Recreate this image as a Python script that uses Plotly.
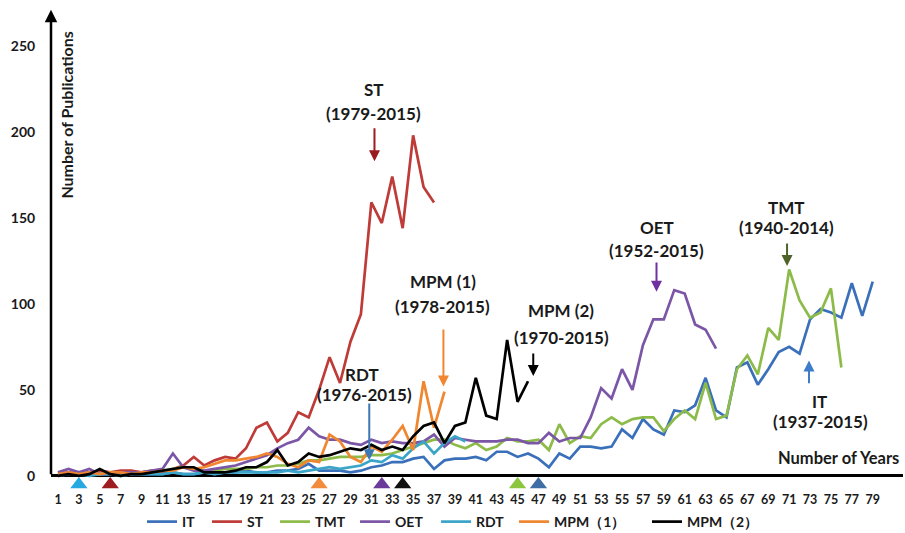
import plotly.graph_objects as go

# Publications per year, indexed from each field's first year (1 = first year)
it_counts = [1, 2, 1, 2, 1, 1, 0, 1, 1, 1,
             1, 2, 1, 1, 2, 1, 2, 2, 3, 2,
             2, 3, 3, 4, 7, 3, 3, 3, 2, 3,
             5, 6, 8, 8, 10, 11, 4, 9, 10, 10,
             11, 9, 14, 14, 11, 13, 10, 5, 13, 10,
             17, 17, 16, 17, 27, 22, 33, 27, 24, 38,
             37, 41, 57, 38, 34, 63, 66, 53, 62, 72,
             75, 71, 91, 97, 95, 92, 112, 93, 113]
st_counts = [1, 2, 1, 2, 3, 2, 3, 3, 2, 3, 2, 4, 6,
             11, 6, 9, 11, 10, 16, 28, 31, 20, 25, 37, 34, 50,
             69, 54, 78, 94, 159, 147, 174, 144, 198, 168, 159]
tmt_counts = [2, 1, 2, 1, 1, 2, 1, 2, 1, 2, 3, 4, 5, 4, 3, 3, 4, 4, 4, 5,
              5, 6, 6, 7, 9, 9, 10, 11, 11, 11,
              12, 12, 13, 15, 17, 19, 21, 21, 18, 16,
              19, 15, 17, 22, 20, 20, 21, 15, 30, 19,
              23, 22, 30, 34, 30, 33, 34, 34, 26, 33,
              38, 33, 54, 33, 35, 62, 70, 59, 86, 79,
              120, 102, 92, 95, 109, 63]
oet_counts = [2, 4, 2, 4, 1, 1, 2, 2, 2, 3, 4, 13, 5, 3, 3, 4,
              5, 6, 8, 10, 12, 16, 19, 21, 28, 23, 21, 21, 19, 18,
              21, 19, 20, 19, 19, 20, 24, 17, 22, 21,
              20, 20, 20, 21, 21, 19, 19, 25, 20, 22, 22,
              34, 51, 45, 62, 50, 76, 91, 91, 108, 106, 88, 85, 74]
rdt_counts = [0, 1, 1, 0, 1, 1, 0, 1, 1, 1, 1, 2, 1, 1, 2, 1, 2, 2, 2, 2,
              2, 2, 3, 2, 3, 4, 5, 4, 5, 6,
              9, 8, 12, 10, 16, 20, 13, 19, 23, 20]
mpm1_counts = [1, 2, 1, 2, 1, 2, 2, 1, 2, 2, 3, 3, 5, 4, 5, 7, 9, 9, 10, 11,
               13, 11, 7, 5, 9,
               8, 24, 20, 11, 8, 17, 14, 21, 29, 15, 55, 28, 49]
mpm2_counts = [0, 1, 0, 1, 4, 1, 0, 1, 1, 2,
               3, 4, 5, 5, 2, 2, 2, 3, 5, 5,
               8, 15, 6, 8, 13, 11, 12, 14, 16, 15,
               18, 15, 17, 15, 23, 29, 31, 19, 29, 31,
               57, 35, 33, 79, 43, 55]

series_names = ["IT", "ST", "TMT", "OET", "RDT", "MPM（1）", "MPM（2）"]
series_values = [it_counts, st_counts, tmt_counts, oet_counts,
                 rdt_counts, mpm1_counts, mpm2_counts]
series_colors = ["#3A70BA", "#BE3B38", "#8DBB49", "#7B56A6",
                 "#3AA5C8", "#F0862F", "#000000"]

# Milestone markers just below the year axis
marker_years = [3, 6, 26, 32, 34, 45, 47]
marker_colors = ["#25A9E0", "#9E1B20", "#F28C3C", "#6A3B9B",
                 "#111111", "#8CC63F", "#3F6EA6"]

year_ticks = list(range(1, 80, 2))
count_ticks = [0, 50, 100, 150, 200, 250]

FONT = "Lato"
TXT = "#1A1A1A"

# Left edge of each legend entry along the bottom row (figure fraction)
legend_x = [0.1569, 0.2287, 0.3039, 0.3923, 0.4818, 0.5680, 0.7149]
legend_ids = ["legend"] + ["legend%d" % i for i in range(2, 8)]

fig = go.Figure()
for name, vals, col, lid in zip(series_names, series_values,
                                series_colors, legend_ids):
    fig.add_trace(go.Scatter(
        x=list(range(1, len(vals) + 1)), y=vals, name=name, mode="lines",
        line=dict(color=col, width=2.7), cliponaxis=False, legend=lid))

fig.add_trace(go.Scatter(
    x=marker_years, y=[-5.0] * len(marker_years), mode="markers",
    marker=dict(symbol="triangle-up", size=15, color=marker_colors),
    showlegend=False, cliponaxis=False, hoverinfo="skip"))

labels = [
    # (text, x, y)
    ("ST", 31.3, 224.5), ("(1979-2015)", 31.2, 210.5),
    ("MPM (1)", 37.9, 113), ("(1978-2015)", 37.8, 98.5),
    ("MPM (2)", 49.2, 96), ("(1970-2015)", 49.2, 80.5),
    ("RDT", 30.1, 59), ("(1976-2015)", 30.3, 47.5),
    ("OET", 58.3, 144.5), ("(1952-2015)", 58.3, 131),
    ("TMT", 70.7, 156), ("(1940-2014)", 70.7, 144.5),
    ("IT", 73.9, 43.5), ("(1937-2015)", 74.0, 31.5),
]
annotations = []
for txt, x, y in labels:
    annotations.append(dict(
        text=txt, x=x, y=y, xref="x", yref="y", showarrow=False,
        font=dict(family=FONT, size=17, color=TXT, weight="bold")))

arrows = [
    # tip (x, y), tail (x, y), colour
    ((31.3, 183), (31.3, 203), "#9B1C1F"),
    ((37.9, 52), (37.9, 86), "#F0862F"),
    ((46.5, 58), (46.5, 72), "#000000"),
    ((30.8, 9), (30.8, 43), "#3D78B5"),
    ((58.3, 107), (58.3, 125), "#7030A0"),
    ((70.8, 122), (70.8, 136), "#4F6228"),
    ((72.9, 67), (72.9, 53), "#3D7CC9"),
]
for (tx, ty), (sx, sy), col in arrows:
    annotations.append(dict(
        x=tx, y=ty, ax=sx, ay=sy, xref="x", yref="y", axref="x", ayref="y",
        text="", showarrow=True, arrowhead=2, arrowsize=1.1, arrowwidth=2,
        arrowcolor=col))

# Count axis drawn as an arrow rising from the origin
annotations.append(dict(
    x=0.33, y=271, ax=0.33, ay=0, xref="x", yref="y", axref="x", ayref="y",
    text="", showarrow=True, arrowhead=2, arrowsize=1, arrowwidth=2.5,
    arrowcolor="#000000", standoff=0, startstandoff=0))

annotations.append(dict(
    text="Number of Publications", x=1.85, y=210, xref="x", yref="y",
    textangle=-90, showarrow=False,
    font=dict(family=FONT, size=16, color=TXT, weight="bold")))
annotations.append(dict(
    text="Number of Years", x=75.7, y=10.5, xref="x", yref="y",
    showarrow=False,
    font=dict(family=FONT, size=16.5, color=TXT, weight="bold")))

legend_style = dict(orientation="h", xanchor="left", xref="container",
                    yref="container", y=0.0206, yanchor="middle",
                    borderwidth=0,
                    font=dict(family=FONT, size=14, color=TXT, weight="bold"),
                    bgcolor="rgba(0,0,0,0)", itemwidth=30)
legend_layout = {lid: dict(legend_style, x=lx)
                 for lid, lx in zip(legend_ids, legend_x)}

fig.update_layout(
    width=905, height=533,
    margin=dict(l=51, r=2, t=15, b=46, pad=0, autoexpand=False),
    paper_bgcolor="white", plot_bgcolor="white",
    showlegend=True,
    annotations=annotations,
    **legend_layout,
)
fig.update_xaxes(
    range=[0.33, 81.9], tickmode="array", tickvals=year_ticks,
    ticktext=[str(t) for t in year_ticks], showgrid=False, zeroline=False,
    showline=False, ticks="outside", ticklen=1, tickcolor="rgba(0,0,0,0)",
    tickfont=dict(family=FONT, size=12.5, color=TXT, weight="bold"))
fig.update_yaxes(
    range=[-6.5, 268], tickmode="array", tickvals=count_ticks,
    showgrid=False, showline=False,
    zeroline=True, zerolinecolor="#000000", zerolinewidth=2.5,
    ticks="outside", ticklen=12, tickcolor="rgba(0,0,0,0)",
    tickfont=dict(family=FONT, size=14, color=TXT, weight="bold"))

fig.write_html("out.html")
